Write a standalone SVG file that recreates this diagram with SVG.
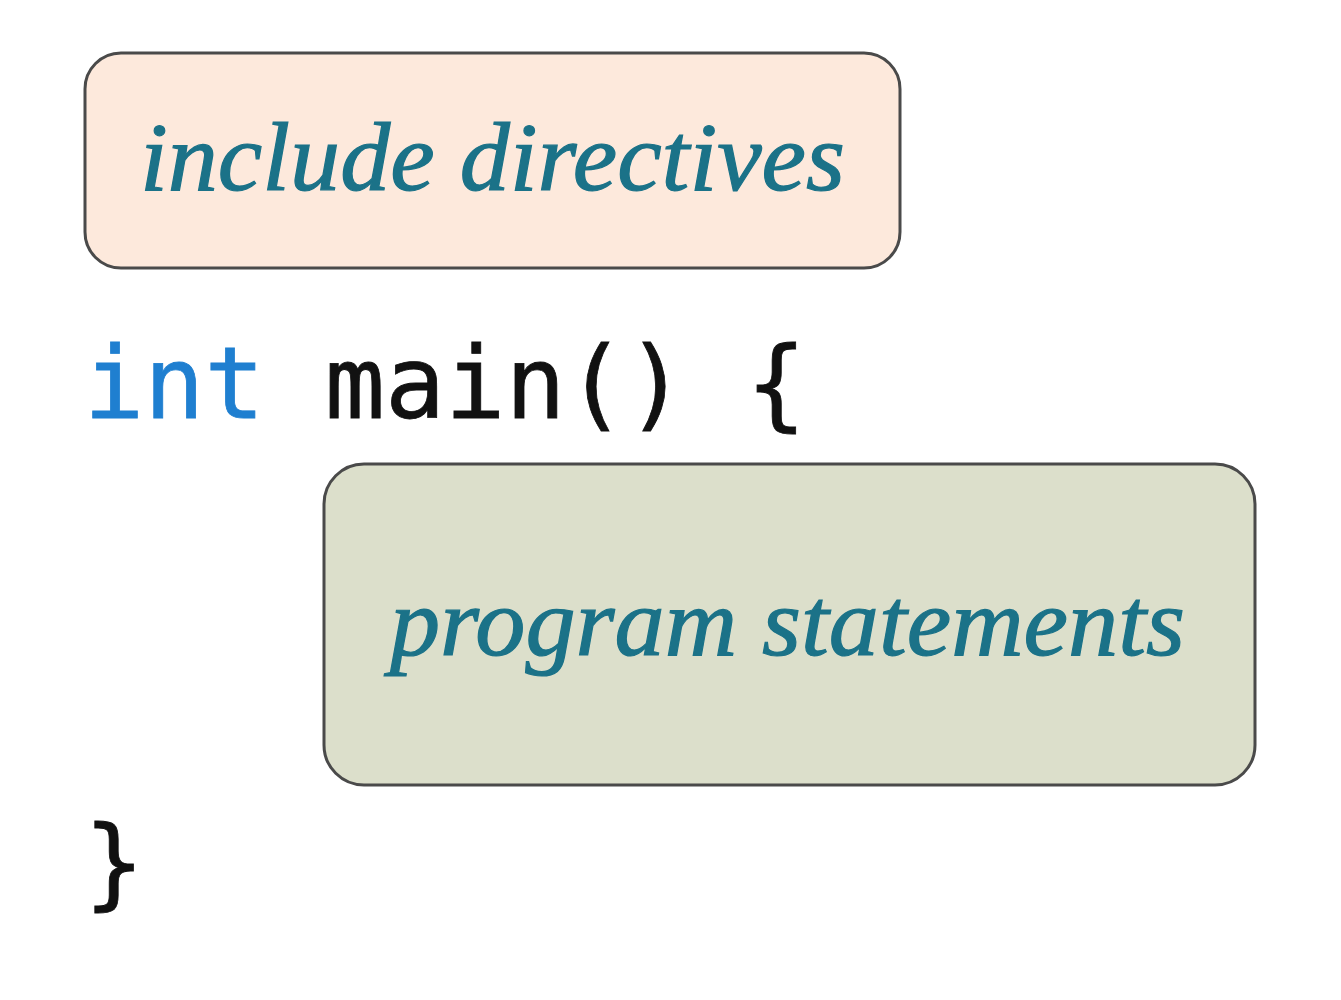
<svg xmlns="http://www.w3.org/2000/svg" width="1341" height="1000" viewBox="0 0 1341 1000">
<style>
.box{stroke:#4a4a4a;stroke-width:3}
.lbl{font-family:"Liberation Serif",serif;font-style:italic;font-size:98px;fill:#1b7288;stroke:#1b7288;stroke-width:1.2}
.code{font-family:"DejaVu Sans Mono",monospace;font-size:100px;fill:#111;stroke:#111;stroke-width:0.8}
.kw{fill:#1f7fd0;stroke:#1f7fd0}
</style>
<rect width="1341" height="1000" fill="#ffffff"/>
<g id="include">
<rect class="box" x="85" y="53" width="815" height="215" rx="36" fill="#fde9dc"/>
<text class="lbl" x="140" y="190" textLength="705" lengthAdjust="spacingAndGlyphs">include directives</text>
</g>
<g id="main-open">
<text class="code" x="84" y="418"><tspan class="kw">int</tspan> main() {</text>
</g>
<g id="statements">
<rect class="box" x="324" y="464" width="931" height="321" rx="40" fill="#dcdfcb"/>
<text class="lbl" x="390" y="655" textLength="795" lengthAdjust="spacingAndGlyphs">program statements</text>
</g>
<g id="main-close">
<text class="code" x="84" y="897">}</text>
</g>
<g id="connectors"/>
</svg>
